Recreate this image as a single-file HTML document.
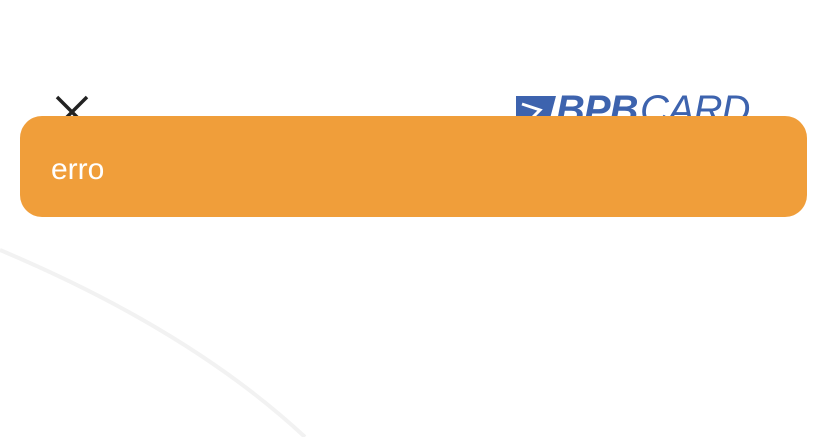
<!DOCTYPE html>
<html><head><meta charset="utf-8"><style>
html,body{margin:0;padding:0;width:827px;height:437px;overflow:hidden;background:#fff;font-family:"Liberation Sans",sans-serif;}
.abs{position:absolute;}
</style></head><body>
<svg class="abs" style="left:0;top:0" width="827" height="437">
<path d="M0,250 Q190,330 305,437" stroke="#f2f2f2" stroke-width="4" fill="none"/>
</svg>
<svg class="abs" style="top:94px;left:54px" width="36" height="30">
<path d="M3,3 L33,33 M33,3 L3,33" stroke="#222" stroke-width="3.5" fill="none"/>
</svg>
<div class="abs" style="left:516px;top:92px;width:240px;height:40px;">
<svg class="abs" style="left:0;top:4px" width="40" height="30"><path d="M0,0 L40,0 L32,30 L0,30Z" fill="#3D63AE"/><path d="M6,8 L24,14 L14,24" stroke="#fff" stroke-width="3" fill="none"/></svg>
<span class="abs" style="left:40px;top:-4px;font-size:40px;font-weight:bold;font-style:italic;color:#3D63AE;letter-spacing:-1px;">BPB</span>
<span class="abs" style="left:124px;top:-4px;font-size:40px;font-weight:300;font-style:italic;color:#3D63AE;letter-spacing:-1px;">CARD</span>
</div>
<div class="abs" style="left:20px;top:116px;width:787px;height:101px;background:#F09E3A;border-radius:22px;">
<span class="abs" style="left:31px;top:37px;font-size:30px;color:#fff;">erro</span>
</div>
</body></html>
